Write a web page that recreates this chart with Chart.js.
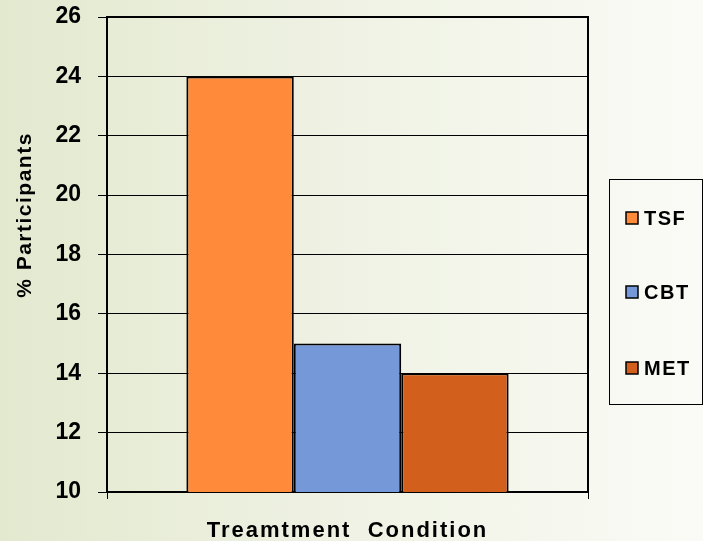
<!DOCTYPE html>
<html>
<head>
<meta charset="utf-8">
<script src="https://cdn.jsdelivr.net/npm/chart.js@4"></script>
<style>
  html, body { margin: 0; padding: 0; }
  body {
    width: 703px; height: 541px; overflow: hidden;
    background: linear-gradient(to right, #e3e9cf 0%, #eef1e2 45%, #fafbf6 100%);
  }
  #wrap { position: relative; width: 703px; height: 541px; }
</style>
</head>
<body>
<div id="wrap"><canvas id="myChart" width="703" height="541"></canvas></div>
<script>
// chart values
const categories = [""];
const seriesNames = ["TSF", "CBT", "MET"];
const tsfValues = [24];
const cbtValues = [15];
const metValues = [14];
const yTicks = [10, 12, 14, 16, 18, 20, 22, 24, 26];

const colors = ["#ff8a3a", "#7599d8", "#d2601c"];

// frame around the plot, axis titles and boxed legend
const decorations = {
    id: "decorations",
    afterDraw(chart) {
        const ctx = chart.ctx;
        const a = chart.chartArea;
        ctx.save();
        ctx.strokeStyle = "#000";
        ctx.lineWidth = 2;
        ctx.beginPath();
        ctx.moveTo(a.left, a.top);
        ctx.lineTo(a.right, a.top);
        ctx.lineTo(a.right, a.bottom);
        ctx.stroke();

        // y title
        ctx.fillStyle = "#000";
        ctx.font = "bold 21px 'Liberation Sans', Arial, sans-serif";
        ctx.letterSpacing = "1.5px";
        ctx.textAlign = "center";
        ctx.textBaseline = "middle";
        ctx.translate(25, 215);
        ctx.rotate(-Math.PI / 2);
        ctx.fillText("% Participants", 0, 0);
        ctx.setTransform(1, 0, 0, 1, 0, 0);

        // x title
        ctx.font = "bold 22px 'Liberation Sans', Arial, sans-serif";
        ctx.letterSpacing = "2px";
        ctx.textBaseline = "alphabetic";
        ctx.fillText("Treamtment  Condition", (a.left + a.right) / 2, 537);

        // legend box
        ctx.lineWidth = 1;
        ctx.strokeRect(609.5, 179.5, 93, 225);
        const rows = [218, 292, 368];
        ctx.font = "bold 20px 'Liberation Sans', Arial, sans-serif";
        ctx.letterSpacing = "1.5px";
        ctx.textAlign = "left";
        ctx.textBaseline = "middle";
        chart.data.datasets.forEach((ds, i) => {
            const y = rows[i];
            ctx.fillStyle = ds.backgroundColor;
            ctx.fillRect(626, y - 6, 12, 12);
            ctx.lineWidth = 1.5;
            ctx.strokeRect(626, y - 6, 12, 12);
            ctx.fillStyle = "#000";
            ctx.fillText(ds.label, 644, y + 1);
        });
        ctx.restore();
    },
};

const data = {
    labels: categories,
    datasets: [
        { label: seriesNames[0], data: tsfValues, backgroundColor: colors[0] },
        { label: seriesNames[1], data: cbtValues, backgroundColor: colors[1] },
        { label: seriesNames[2], data: metValues, backgroundColor: colors[2] },
    ].map((d) => Object.assign(d, {
        borderColor: "#000",
        borderWidth: 2,
        borderSkipped: false,
        categoryPercentage: 0.67,
        barPercentage: 1.0,
    })),
};

const config = {
    type: "bar",
    data: data,
    options: {
        responsive: false,
        animation: false,
        layout: { padding: { top: 17, right: 115, left: 0, bottom: 0 } },
        plugins: {
            legend: { display: false },
            tooltip: { enabled: false },
        },
        scales: {
            x: {
                offset: true,
                grid: {
                    offset: true,
                    drawOnChartArea: false,
                    color: "#000",
                    tickLength: 7,
                    lineWidth: 1,
                },
                border: { color: "#000", width: 2 },
                ticks: { display: true, font: { size: 1 } },
                afterFit(scale) { scale.height = 49; },
            },
            y: {
                min: 10,
                max: 26,
                afterBuildTicks(scale) { scale.ticks = yTicks.map((v) => ({ value: v })); },
                ticks: {
                    color: "#000",
                    padding: 17,
                    font: { family: "'Liberation Sans', Arial, sans-serif", size: 23, weight: "bold" },
                },
                grid: { color: "#000", lineWidth: 1, tickLength: 9 },
                border: { color: "#000", width: 2 },
                afterFit(scale) {
                    scale.width = 107;
                    scale.paddingTop = 0;
                    scale.paddingBottom = 0;
                },
            },
        },
    },
    plugins: [decorations],
};

const myChart = new Chart(document.getElementById("myChart"), config);
</script>
</body>
</html>
